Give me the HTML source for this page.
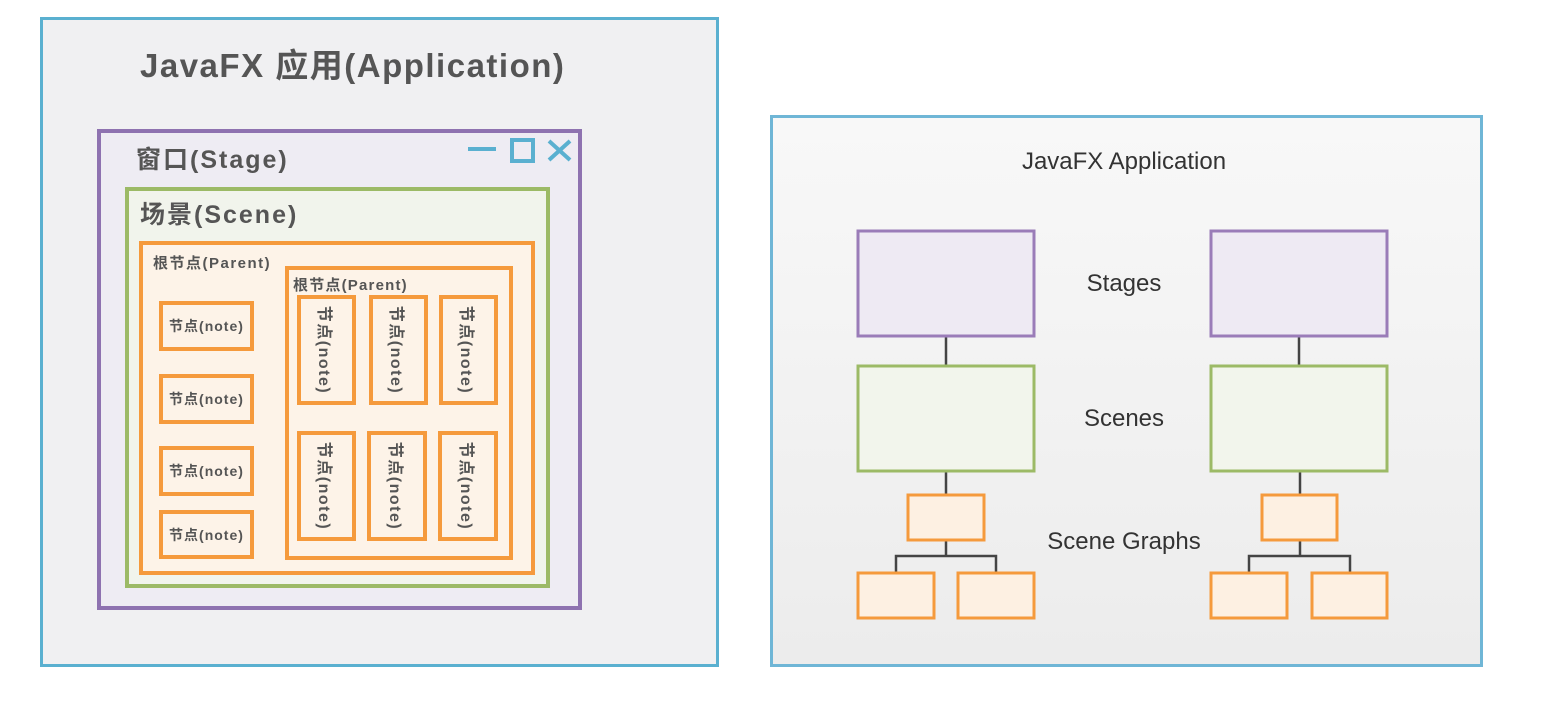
<!DOCTYPE html>
<html><head><meta charset="utf-8"><style>
body{margin:0;width:1567px;height:719px;background:#fff;position:relative;overflow:hidden;font-family:"Liberation Sans","Noto Sans CJK SC",sans-serif}
.b{position:absolute;box-sizing:border-box}
.t{position:absolute;white-space:nowrap;color:#555;font-weight:bold}
.n{position:absolute;box-sizing:border-box;border:4px solid #f59a3c;background:#fdf3e8;display:flex;align-items:center;justify-content:center;font-size:14px;font-weight:bold;color:#555;letter-spacing:1px}
.v span{transform:rotate(90deg);white-space:nowrap;display:block;font-size:16px;letter-spacing:1.5px}
</style></head><body>
<div class="b" style="left:40px;top:17px;width:679px;height:650px;border:3px solid #5ab0d0;background:#f0f0f2"></div>
<div class="t" style="left:140px;top:39px;font-size:33px;letter-spacing:1.5px">JavaFX 应用(Application)</div>
<div class="b" style="left:97px;top:129px;width:485px;height:481px;border:4px solid #8e72b0;background:#eeecf3"></div>
<div class="t" style="left:136px;top:140px;font-size:25px;letter-spacing:2px">窗口(Stage)</div>
<svg style="position:absolute;left:460px;top:130px" width="120" height="40">
<line x1="8" y1="19" x2="36" y2="19" stroke="#5ab0d0" stroke-width="4"/>
<rect x="52" y="10" width="21" height="21" fill="none" stroke="#5ab0d0" stroke-width="4"/>
<line x1="89" y1="11" x2="110" y2="30" stroke="#5ab0d0" stroke-width="4"/>
<line x1="110" y1="11" x2="89" y2="30" stroke="#5ab0d0" stroke-width="4"/>
</svg>
<div class="b" style="left:125px;top:187px;width:425px;height:401px;border:4px solid #9cba66;background:#f1f4ec"></div>
<div class="t" style="left:140px;top:195px;font-size:25px;letter-spacing:2px">场景(Scene)</div>
<div class="b" style="left:139px;top:241px;width:396px;height:334px;border:4px solid #f59a3c;background:#fdf3e8"></div>
<div class="t" style="left:153px;top:252px;font-size:15px;letter-spacing:1.5px">根节点(Parent)</div>
<div class="b" style="left:285px;top:266px;width:228px;height:294px;border:4px solid #f59a3c;background:#fdf3e8"></div>
<div class="t" style="left:293px;top:274px;font-size:15px;letter-spacing:1.2px">根节点(Parent)</div>
<div class="n" style="left:159px;top:301px;width:95px;height:50px">节点(note)</div>
<div class="n" style="left:159px;top:374px;width:95px;height:50px">节点(note)</div>
<div class="n" style="left:159px;top:446px;width:95px;height:50px">节点(note)</div>
<div class="n" style="left:159px;top:510px;width:95px;height:49px">节点(note)</div>
<div class="n v" style="left:297px;top:295px;width:59px;height:110px"><span>节点(note)</span></div>
<div class="n v" style="left:369px;top:295px;width:59px;height:110px"><span>节点(note)</span></div>
<div class="n v" style="left:439px;top:295px;width:59px;height:110px"><span>节点(note)</span></div>
<div class="n v" style="left:297px;top:431px;width:59px;height:110px"><span>节点(note)</span></div>
<div class="n v" style="left:367px;top:431px;width:60px;height:110px"><span>节点(note)</span></div>
<div class="n v" style="left:438px;top:431px;width:60px;height:110px"><span>节点(note)</span></div>

<div class="b" style="left:770px;top:115px;width:713px;height:552px;border:3px solid #6fb6d6;background:linear-gradient(#f8f8f8,#ececec)"></div>
<svg style="position:absolute;left:0;top:0" width="1567" height="719" font-family="Liberation Sans, sans-serif" fill="#333">
<text x="1124" y="169" font-size="24" text-anchor="middle" fill="#333">JavaFX Application</text>
<text x="1124" y="291" font-size="24" text-anchor="middle">Stages</text>
<text x="1124" y="426" font-size="24" text-anchor="middle">Scenes</text>
<text x="1124" y="549" font-size="24" text-anchor="middle">Scene Graphs</text>
<g stroke="#444" stroke-width="2.5" fill="none">
<path d="M946 336V366M946 471V495M946 540V556M896 573V556H996V573"/>
<path d="M1299 336V366M1300 471V495M1300 540V556M1249 573V556H1350V573"/>
</g>
<g stroke-width="3">
<rect x="858" y="231" width="176" height="105" fill="#eeeaf3" stroke="#9a7cb8"/>
<rect x="1211" y="231" width="176" height="105" fill="#eeeaf3" stroke="#9a7cb8"/>
<rect x="858" y="366" width="176" height="105" fill="#f2f5ec" stroke="#9cba66"/>
<rect x="1211" y="366" width="176" height="105" fill="#f2f5ec" stroke="#9cba66"/>
<g fill="#fdf0e2" stroke="#f59a3c">
<rect x="908" y="495" width="76" height="45"/>
<rect x="1262" y="495" width="75" height="45"/>
<rect x="858" y="573" width="76" height="45"/>
<rect x="958" y="573" width="76" height="45"/>
<rect x="1211" y="573" width="76" height="45"/>
<rect x="1312" y="573" width="75" height="45"/>
</g></g>
</svg>
</body></html>
